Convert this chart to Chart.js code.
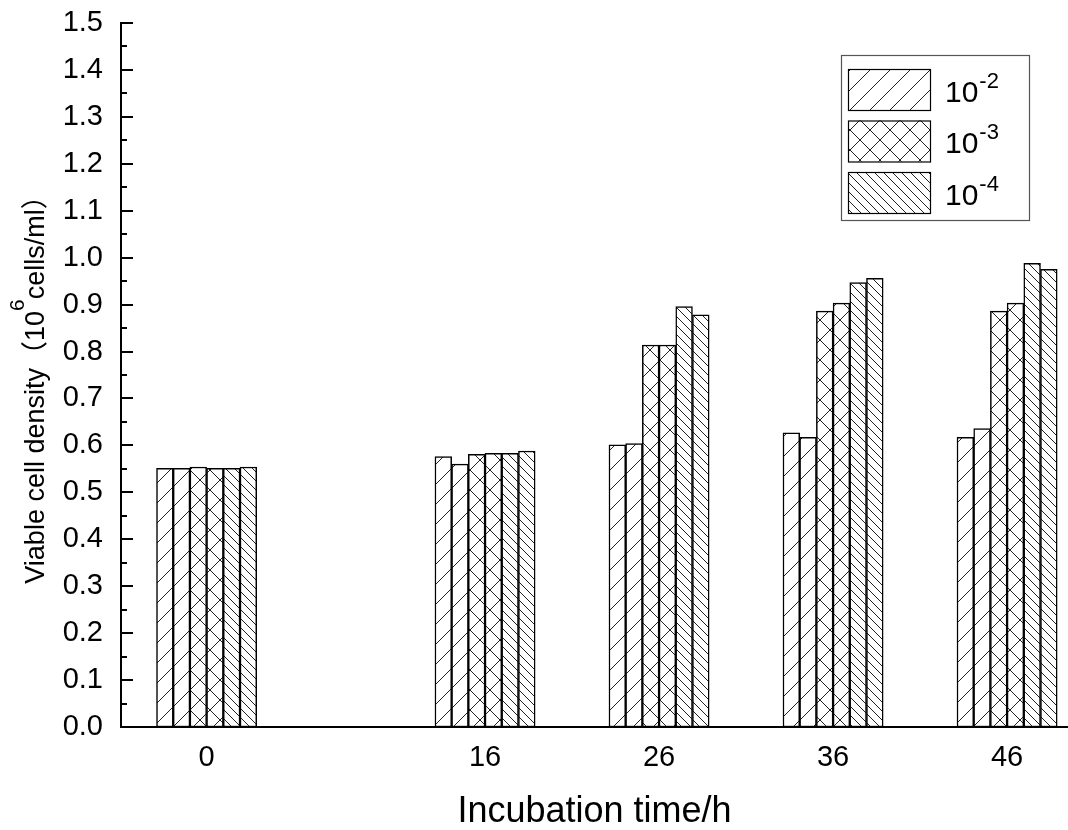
<!DOCTYPE html>
<html><head><meta charset="utf-8">
<script src="https://cdn.jsdelivr.net/npm/chart.js@4.4.1/dist/chart.umd.min.js"></script>
<style>html,body{margin:0;padding:0;background:#fff}canvas{display:block}</style>
</head><body>
<canvas id="c" width="1068" height="830"></canvas>
<script>
// ---- data ----
const timePoints = [0, 16, 26, 36, 46];
const dil2a = [0.551, 0.576, 0.601, 0.627, 0.617];
const dil2b = [0.551, 0.560, 0.604, 0.617, 0.636];
const dil3a = [0.554, 0.581, 0.814, 0.886, 0.886];
const dil3b = [0.551, 0.583, 0.814, 0.903, 0.903];
const dil4a = [0.551, 0.583, 0.896, 0.947, 0.988];
const dil4b = [0.554, 0.588, 0.878, 0.956, 0.975];
const seriesNames = ['10^-2', '10^-3', '10^-4'];
const xTitle = 'Incubation time/h';
const yTitleParts = ['Viable cell density（10', '6', 'cells/ml）'];

const FONT = "'Liberation Sans', Arial, 'Noto Sans CJK SC', sans-serif";
const canvas = document.getElementById('c');
const ctx0 = canvas.getContext('2d');

function makePattern(kind) {
  const p = kind === 'back' ? 9 : 20;
  const c = document.createElement('canvas');
  c.width = p; c.height = p;
  const g = c.getContext('2d');
  g.fillStyle = '#fff'; g.fillRect(0, 0, p, p);
  g.strokeStyle = '#222'; g.lineWidth = 1;
  const fwd = () => { g.beginPath(); g.moveTo(-1, p + 1); g.lineTo(p + 1, -1); g.moveTo(-2, 2); g.lineTo(2, -2); g.moveTo(p - 2, p + 2); g.lineTo(p + 2, p - 2); g.stroke(); };
  const back = () => { g.beginPath(); g.moveTo(-1, -1); g.lineTo(p + 1, p + 1); g.moveTo(p - 2, -2); g.lineTo(p + 2, 2); g.moveTo(-2, p - 2); g.lineTo(2, p + 2); g.stroke(); };
  if (kind === 'fwd') fwd();
  else if (kind === 'back') back();
  else { fwd(); back(); }
  return ctx0.createPattern(c, 'repeat');
}
const patFwd = makePattern('fwd');
const patCross = makePattern('cross');
const patBack = makePattern('back');

const toXY = arr => arr.map((v, i) => ({ x: timePoints[i], y: v }));
const datasets = [
  { label: seriesNames[0], data: toXY(dil2a), backgroundColor: patFwd, legendShow: true },
  { label: seriesNames[0], data: toXY(dil2b), backgroundColor: patFwd },
  { label: seriesNames[1], data: toXY(dil3a), backgroundColor: patCross, legendShow: true },
  { label: seriesNames[1], data: toXY(dil3b), backgroundColor: patCross },
  { label: seriesNames[2], data: toXY(dil4a), backgroundColor: patBack, legendShow: true },
  { label: seriesNames[2], data: toXY(dil4b), backgroundColor: patBack }
];

const decorPlugin = {
  id: 'decor',
  afterDraw(chart) {
    const ctx = chart.ctx;
    const area = chart.chartArea;
    const ys = chart.scales.y;
    // inward y ticks (major 0.1, minor 0.05)
    ctx.save();
    ctx.strokeStyle = '#000';
    ctx.lineWidth = 2;
    for (let i = 0; i <= 30; i++) {
      const py = Math.round(ys.getPixelForValue(i * 0.05));
      const len = i % 2 === 0 ? 12 : 6;
      ctx.beginPath();
      ctx.moveTo(area.left, py);
      ctx.lineTo(area.left + len, py);
      ctx.stroke();
    }
    ctx.restore();

    // legend box
    ctx.save();
    const bx = area.right - 227, by = area.top + 32, bw = 188, bh = 165;
    ctx.strokeStyle = '#555';
    ctx.lineWidth = 1.2;
    ctx.strokeRect(bx + 0.5, by + 0.5, bw, bh);
    let row = 0;
    chart.data.datasets.forEach(ds => {
      if (!ds.legendShow) return;
      const sx = bx + 7, sy = by + 14 + row * 51.5, sw = 82, sh = 41;
      ctx.fillStyle = ds.backgroundColor;
      ctx.fillRect(sx, sy, sw, sh);
      ctx.strokeStyle = '#000';
      ctx.lineWidth = 1.2;
      ctx.strokeRect(sx + 0.5, sy + 0.5, sw, sh);
      const [base, exp] = ds.label.split('^');
      ctx.fillStyle = '#000';
      ctx.textBaseline = 'alphabetic';
      ctx.textAlign = 'left';
      ctx.font = '30px ' + FONT;
      const tx = bx + 104, ty = sy + 32.5;
      ctx.fillText(base, tx, ty);
      const w = ctx.measureText(base).width;
      ctx.font = '22px ' + FONT;
      ctx.fillText(exp, tx + w + 1, ty - 14);
      row++;
    });
    ctx.restore();

    // y axis title with superscript
    ctx.save();
    ctx.translate(44, 383);
    ctx.rotate(-Math.PI / 2);
    ctx.fillStyle = '#000';
    ctx.textBaseline = 'alphabetic';
    ctx.textAlign = 'left';
    const fMain = '27px ' + FONT, fSup = '21px ' + FONT;
    ctx.font = fMain; const w1 = ctx.measureText(yTitleParts[0]).width;
    ctx.font = fSup; const w2 = ctx.measureText(yTitleParts[1]).width;
    ctx.font = fMain; const w3 = ctx.measureText(yTitleParts[2]).width;
    let x = -(w1 + w2 + w3) / 2;
    ctx.font = fMain; ctx.fillText(yTitleParts[0], x, 0); x += w1;
    ctx.font = fSup; ctx.fillText(yTitleParts[1], x, -20); x += w2;
    ctx.font = fMain; ctx.fillText(yTitleParts[2], x, 0);
    ctx.restore();
  }
};

new Chart(canvas, {
  type: 'bar',
  data: { datasets },
  plugins: [decorPlugin],
  options: {
    responsive: false,
    animation: false,
    devicePixelRatio: 1,
    layout: { padding: { top: 23, left: 0, right: 0, bottom: 0 } },
    plugins: { legend: { display: false }, tooltip: { enabled: false } },
    datasets: { bar: { barThickness: 16.7, borderWidth: 1.5, borderColor: '#000', borderSkipped: false } },
    scales: {
      x: {
        type: 'linear', min: -4.92, max: 49.5, offset: false, z: 1,
        afterBuildTicks: s => { s.ticks = timePoints.map(v => ({ value: v })); },
        afterFit: s => { s.height = 103; s.paddingLeft = 0; s.paddingRight = 0; },
        grid: { display: false, drawTicks: false },
        border: { display: true, color: '#000', width: 2 },
        ticks: { color: '#000', font: { family: FONT, size: 29 }, padding: 14, autoSkip: false, maxRotation: 0, callback: v => String(v) },
        title: { display: true, text: xTitle, color: '#000', font: { family: FONT, size: 36, lineHeight: 1.1 }, padding: { top: 0, bottom: -2 } }
      },
      y: {
        min: 0, max: 1.5, z: 1,
        afterFit: s => { s.width = 121; s.paddingTop = 0; s.paddingBottom = 0; },
        grid: { display: false, drawTicks: false },
        border: { display: true, color: '#000', width: 2 },
        ticks: { stepSize: 0.1, color: '#000', font: { family: FONT, size: 29 }, padding: 18, callback: v => Number(v).toFixed(1) }
      }
    }
  }
});
</script>
</body></html>
